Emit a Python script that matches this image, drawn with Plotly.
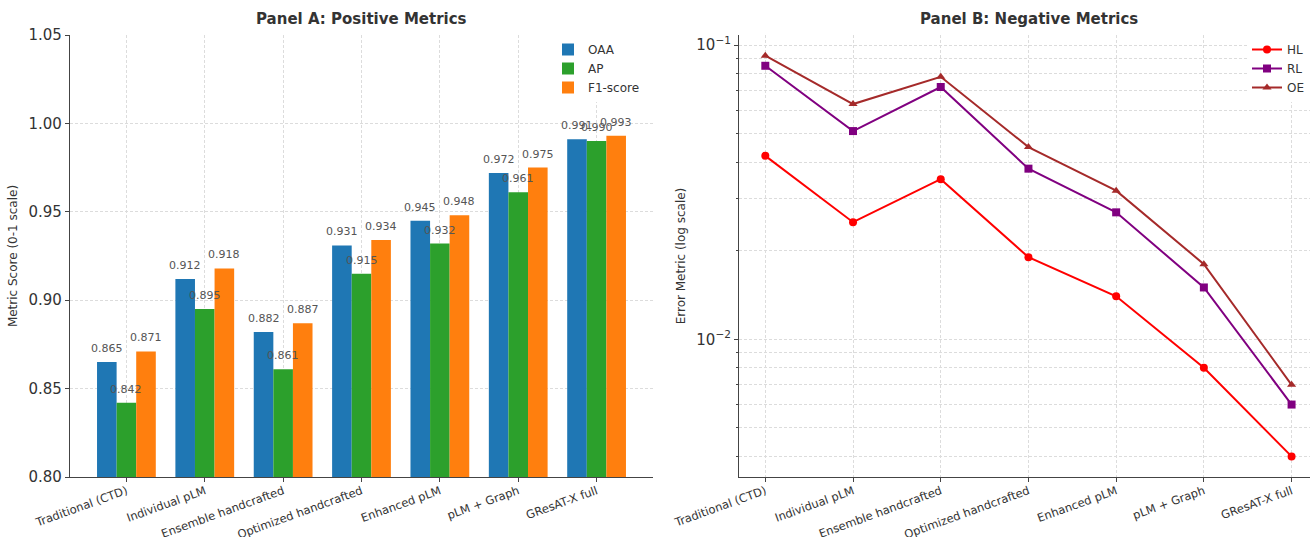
import plotly.graph_objects as go

# Methods compared in both panels
methods = ["Traditional (CTD)", "Individual pLM", "Ensemble handcrafted",
           "Optimized handcrafted", "Enhanced pLM", "pLM + Graph", "GResAT-X full"]

# Positive metrics (higher is better)
oaa = [0.865, 0.912, 0.882, 0.931, 0.945, 0.972, 0.991]
ap = [0.842, 0.895, 0.861, 0.915, 0.932, 0.961, 0.990]
f1 = [0.871, 0.918, 0.887, 0.934, 0.948, 0.975, 0.993]

# Negative metrics (lower is better)
hl = [0.042, 0.025, 0.035, 0.019, 0.014, 0.008, 0.004]
rl = [0.085, 0.051, 0.072, 0.038, 0.027, 0.015, 0.006]
oe = [0.092, 0.063, 0.078, 0.045, 0.032, 0.018, 0.007]

W, H = 1310, 537
FONT = "DejaVu Sans"
TXT = "#333333"
GRID = "#dcdcdc"
DASH = "3px,2px"
BAR_W = 0.25

fig = go.Figure()

bar_series = [("OAA", oaa, "#1f77b4"), ("AP", ap, "#2ca02c"), ("F1-score", f1, "#ff7f0e")]
annotations = []
for k, (name, vals, col) in enumerate(bar_series):
    fig.add_trace(go.Bar(
        x=methods, y=vals, name=name, marker=dict(color=col, line=dict(width=0)),
        xaxis="x", yaxis="y", legend="legend",
    ))
    # value labels sit above each bar, drawn on top of all bars
    off = (k - 1) * BAR_W
    for i, v in enumerate(vals):
        annotations.append(dict(
            x=i + off, y=v, xref="x", yref="y", text=f"{v:.3f}", showarrow=False,
            xanchor="center", yanchor="bottom", yshift=5,
            font=dict(size=11, color="#555555"),
        ))

line_series = [("HL", hl, "#ff0000", "circle"),
               ("RL", rl, "#800080", "square"),
               ("OE", oe, "#a52a2a", "triangle-up")]
for name, vals, col, sym in line_series:
    fig.add_trace(go.Scatter(
        x=methods, y=vals, name=name, mode="lines+markers",
        line=dict(color=col, width=2), marker=dict(color=col, symbol=sym, size=8),
        xaxis="x2", yaxis="y2", legend="legend2", cliponaxis=False,
    ))

# minor gridlines for the log axis
minor_vals = [m * 10 ** e for e in (-3, -2) for m in range(2, 10)]

axis_common = dict(
    showline=True, linecolor="#444444", linewidth=1.2,
    ticks="outside", ticklen=4, tickcolor="#444444",
    showgrid=True, gridcolor=GRID, griddash=DASH, gridwidth=0.8,
    zeroline=False, mirror=False, automargin=False,
)
xtick_common = dict(tickangle=-20, tickfont=dict(size=11.5, color=TXT), ticklabelstandoff=-2)

title_y = 1 + (35 - 19) / 442
annotations += [
    dict(text="<b>Panel A: Positive Metrics</b>", x=(70 + 653) / 2 / W, y=title_y,
         xref="paper", yref="paper", xanchor="center", yanchor="middle", showarrow=False,
         font=dict(size=15, color=TXT)),
    dict(text="<b>Panel B: Negative Metrics</b>", x=(739 + 1318) / 2 / W, y=title_y,
         xref="paper", yref="paper", xanchor="center", yanchor="middle", showarrow=False,
         font=dict(size=15, color=TXT)),
]

fig.update_layout(
    width=W, height=H,
    margin=dict(l=0, r=0, t=35, b=60),
    paper_bgcolor="white", plot_bgcolor="white",
    font=dict(family=FONT, color=TXT),
    barmode="group", bargap=0.25, bargroupgap=0,
    showlegend=True,
    xaxis=dict(domain=[70 / W, 653 / W], anchor="y", range=[-0.72, 6.72],
               **xtick_common, **axis_common),
    yaxis=dict(domain=[0, 1], anchor="x", range=[0.80, 1.05],
               tickvals=[0.80, 0.85, 0.90, 0.95, 1.00, 1.05], tickformat=".2f",
               tickfont=dict(size=15, color=TXT),
               title=dict(text="Metric Score (0-1 scale)", font=dict(size=12, color=TXT), standoff=8),
               **axis_common),
    xaxis2=dict(domain=[739 / W, 1.0], anchor="y2", range=[-0.3, 6.21],
                **xtick_common, **axis_common),
    yaxis2=dict(domain=[0, 1], anchor="x2", type="log", range=[-2.468, -0.966],
                tickvals=[0.01, 0.1],
                ticktext=["10<sup>\u22122</sup>", "10<sup>\u22121</sup>"],
                tickfont=dict(size=15, color=TXT),
                title=dict(text="Error Metric (log scale)", font=dict(size=12, color=TXT), standoff=8),
                minor=dict(tickvals=minor_vals, ticks="outside", ticklen=2,
                           tickcolor="#444444", showgrid=True, gridcolor=GRID,
                           griddash=DASH, gridwidth=0.8),
                **axis_common),
    legend=dict(x=645 / W, y=1, xanchor="right", yanchor="top",
                bgcolor="white", borderwidth=0, font=dict(size=12, color=TXT),
                itemwidth=30, tracegroupgap=2),
    legend2=dict(x=1.0, y=1, xanchor="right", yanchor="top",
                 bgcolor="white", borderwidth=0, font=dict(size=12, color=TXT),
                 itemwidth=30),
    annotations=annotations,
)

fig.write_html("out.html")
